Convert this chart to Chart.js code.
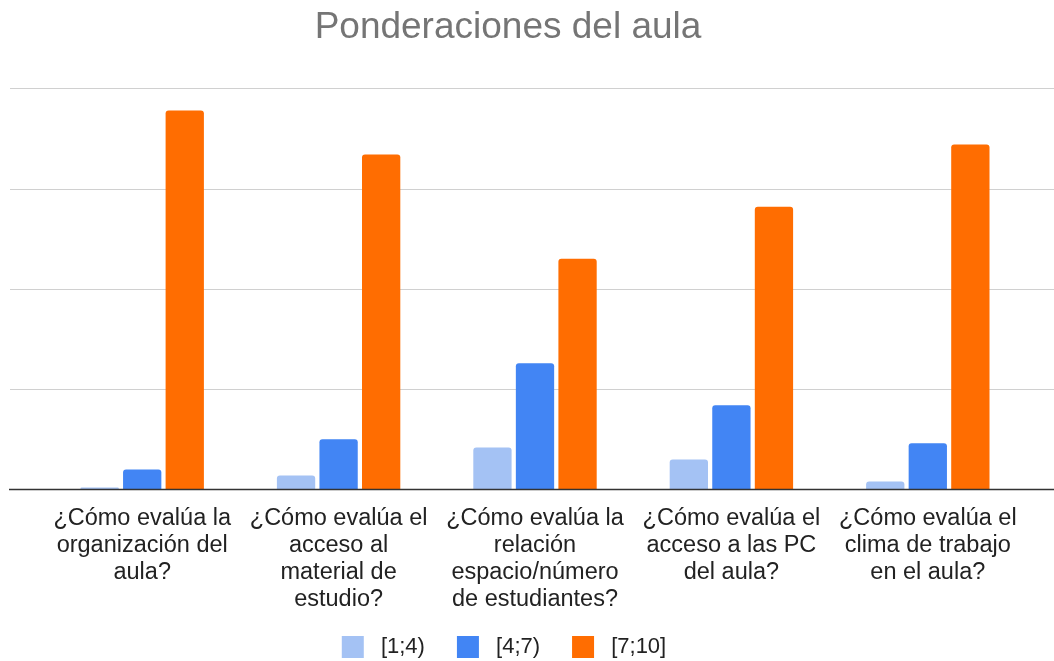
<!DOCTYPE html>
<html>
<head>
<meta charset="utf-8">
<script src="https://cdn.jsdelivr.net/npm/chart.js@4.4.1/dist/chart.umd.min.js"></script>
<style>
  html, body { margin: 0; padding: 0; background: #fff; }
  #wrap { width: 1054px; height: 661px; }
</style>
</head>
<body>
<div id="wrap"><canvas id="aulaChart"></canvas></div>
<script>
// preguntas (eje x)
const preguntas = [
  ["¿Cómo evalúa la", "organización del", "aula?"],
  ["¿Cómo evalúa el", "acceso al", "material de", "estudio?"],
  ["¿Cómo evalúa la", "relación", "espacio/número", "de estudiantes?"],
  ["¿Cómo evalúa el", "acceso a las PC", "del aula?"],
  ["¿Cómo evalúa el", "clima de trabajo", "en el aula?"]
];

const rangos = ["[1;4)", "[4;7)", "[7;10]"];

// cantidad de respuestas por rango
const bajo = [1, 7, 21, 15, 4];
const medio = [10, 25, 63, 42, 23];
const alto = [189, 167, 115, 141, 172];

// lineas de la grilla (sin etiquetas visibles)
const gridValues = [0, 50, 100, 150, 200];

const colores = ["#a4c2f4", "#4285f4", "#ff6d01"];

// grilla ancha como en Google Sheets + linea base oscura
const gridPlugin = {
  id: "gridPlugin",
  beforeDatasetsDraw(chart) {
    const ctx = chart.ctx;
    const y = chart.scales.y;
    ctx.save();
    ctx.strokeStyle = "#d0d0d0";
    ctx.lineWidth = 1;
    gridValues.forEach(v => {
      if (v === 0) return;
      const py = Math.round(y.getPixelForValue(v)) + 0.5;
      ctx.beginPath();
      ctx.moveTo(10, py);
      ctx.lineTo(chart.width, py);
      ctx.stroke();
    });
    ctx.restore();
  },
  afterDatasetsDraw(chart) {
    const ctx = chart.ctx;
    const py = chart.scales.y.getPixelForValue(0);
    ctx.save();
    ctx.strokeStyle = "#333333";
    ctx.lineWidth = 1.6;
    ctx.beginPath();
    ctx.moveTo(9, py);
    ctx.lineTo(chart.width, py);
    ctx.stroke();
    ctx.restore();
  },
  afterLayout(chart) {
    // el titulo y la leyenda quedan un poco a la izquierda del centro
    chart.titleBlock.left -= 27;
    chart.titleBlock.right -= 27;
    chart.legend.left -= 31;
    chart.legend.right -= 31;
    // que no se corte la 4a linea de las etiquetas
    chart.scales.x.bottom = chart.height;
  }
};

const ctx = document.getElementById("aulaChart").getContext("2d");

new Chart(ctx, {
  type: "bar",
  data: {
    labels: preguntas,
    datasets: [
      { label: rangos[0], data: bajo, backgroundColor: colores[0] },
      { label: rangos[1], data: medio, backgroundColor: colores[1] },
      { label: rangos[2], data: alto, backgroundColor: colores[2] }
    ]
  },
  options: {
    responsive: true,
    maintainAspectRatio: false,
    animation: false,
    layout: { padding: { left: 44, right: 28, top: 0, bottom: 0 } },
    datasets: {
      bar: {
        categoryPercentage: 0.65,
        barPercentage: 0.9,
        borderRadius: 3,
        borderWidth: 0
      }
    },
    plugins: {
      title: {
        display: true,
        text: "Ponderaciones del aula",
        color: "#757575",
        font: { family: "'Liberation Sans', Arial, sans-serif", size: 37, weight: "normal" },
        padding: { top: 6, bottom: 38 }
      },
      legend: {
        position: "bottom",
        maxHeight: 57,
        labels: {
          boxWidth: 22,
          boxHeight: 22,
          padding: 32,
          color: "#222222",
          font: { family: "'Liberation Sans', Arial, sans-serif", size: 22 },
          generateLabels(chart) {
            const items = Chart.defaults.plugins.legend.labels.generateLabels(chart);
            items.forEach(it => { it.text = " " + it.text; it.lineWidth = 0; });
            return items;
          }
        }
      },
      tooltip: { enabled: false }
    },
    scales: {
      x: {
        grid: { display: false, drawTicks: false },
        border: { display: false },
        ticks: {
          color: "#222222",
          padding: 16,
          maxRotation: 0,
          minRotation: 0,
          autoSkip: false,
          font: { family: "'Liberation Sans', Arial, sans-serif", size: 23.5, lineHeight: 1.149 }
        },
        afterFit(scale) { scale.height = 114.5; }
      },
      y: {
        display: false,
        min: 0,
        max: 200,
        ticks: { stepSize: 50 }
      }
    }
  },
  plugins: [gridPlugin]
});
</script>
</body>
</html>
